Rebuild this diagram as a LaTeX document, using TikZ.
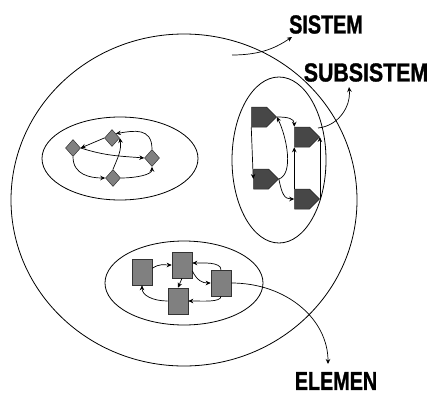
\documentclass[tikz,border=0pt]{standalone}
\usepackage{fontspec}
\setmainfont{Liberation Sans}
\newfontfamily\labfont[UprightFont={* Bold},FakeBold=1.3]{Liberation Sans}
\usetikzlibrary{shapes.geometric,shapes.symbols,arrows.meta}
\begin{document}
\begin{tikzpicture}[x=1pt,y=-1pt,
  conn/.style={line width=0.7pt,-{Stealth[length=5pt,width=4.5pt]}},
  ring/.style={draw,ellipse,line width=0.8pt,inner sep=0},
  dia/.style={diamond,draw=black!80,fill=gray,minimum width=15pt,minimum height=17pt,inner sep=0,line width=0.5pt},
  sig/.style={signal,signal to=east,draw=black!85,fill=black!72,minimum width=25pt,minimum height=20pt,inner sep=0,line width=0.5pt},
  box/.style={rectangle,draw=black!80,fill=gray,minimum width=20pt,minimum height=26pt,inner sep=0,line width=0.6pt},
  lab/.style={font=\labfont\fontsize{26}{26}\selectfont,inner sep=0}]
\useasboundingbox (0,0) rectangle (430,396);
% ellipses
\node[ring,minimum width=346pt,minimum height=332pt] (sys) at (184,200) {};
\node[ring,minimum width=156pt,minimum height=83pt] (leftring) at (120,158.5) {};
\node[ring,minimum width=94pt,minimum height=166pt] (rightring) at (279,160) {};
\node[ring,minimum width=158pt,minimum height=84pt] (botring) at (184,283) {};
% labels
\node[lab] (sistem) at (326,24.5) {\scalebox{0.76}[1]{SISTEM}};
\node[lab] (subsistem) at (366,72.5) {\scalebox{0.82}[1]{SUBSISTEM}};
\node[lab] (elemen) at (336,381) {\scalebox{0.76}[1]{ELEMEN}};
% diamonds
\node[dia] (D1) at (73,148) {};
\node[dia] (D2) at (112,138) {};
\node[dia] (D3) at (152,158) {};
\node[dia] (D4) at (113,178) {};
% signals
\node[sig] (P1) at (259,117) {};
\node[sig] (P2) at (302,137) {};
\node[sig] (P3) at (261,179) {};
\node[sig] (P4) at (302,199) {};
% boxes
\node[box] (R1) at (142,272) {};
\node[box] (R2) at (182,265) {};
\node[box] (R3) at (221,283) {};
\node[box] (R4) at (178,301) {};
% free ends
\coordinate (sisS) at (232,55);
\coordinate (sisT) at (292,37);
\coordinate (subS) at (318,128);
\coordinate (subT) at (349,87);
\coordinate (eleT) at (328,364);
% label arrows
\draw[conn] (sisS) .. controls +(30,0) and +(-15,10) .. (sisT);
\draw[conn] (subS) .. controls +(20,-2) and +(2,20) .. (subT);
\draw[conn] (R3.east) .. controls +(55,0) and +(0,-45) .. (eleT);
% left group
\draw[conn] (D2.west) -- (D1.east);
\draw[conn] (D1.east) .. controls +(25,8) and +(-25,-2) .. (D3.west);
\draw[conn] (D1.south) .. controls +(0,18) and +(-15,0) .. (D4.west);
\draw[conn] (D4.east) .. controls +(15,0) and +(0,8) .. (D3.south);
\draw[conn] (D3.north) .. controls +(0,-22) and +(18,-3) .. (D2.north east);
\draw[conn] (D4.north) .. controls +(5,-12) and +(2,12) .. (D2.east);
% right group
\draw[conn] (P1.south west) -- (P3.west);
\draw[conn] (P1.east) .. controls +(12,0) and +(0,-8) .. (P2.north west);
\draw[conn] (P3.east) .. controls +(15,-5) and +(10,20) .. (P1.east);
\draw[conn] (P4.north west) -- (P2.south west);
\draw[conn] (P4.east) -- (P2.east);
\draw[conn] (P3.east) .. controls +(3,15) and +(-10,0) .. (P4.west);
% bottom group
\draw[conn] (R1.20) .. controls +(8,-5) and +(-8,0) .. (R2.west);
\draw[conn] (R3.north) .. controls +(0,-8) and +(10,0) .. ([yshift=2pt]R2.east);
\draw[conn] (R2.-30) .. controls +(5,10) and +(-8,0) .. (R3.west);
\draw[conn] (R2.south) -- (R4.north);
\draw[conn] (R4.west) .. controls +(-15,0) and +(0,10) .. (R1.south);
\draw[conn] (R3.south) .. controls +(0,6) and +(15,0) .. (R4.east);
\end{tikzpicture}
\end{document}
